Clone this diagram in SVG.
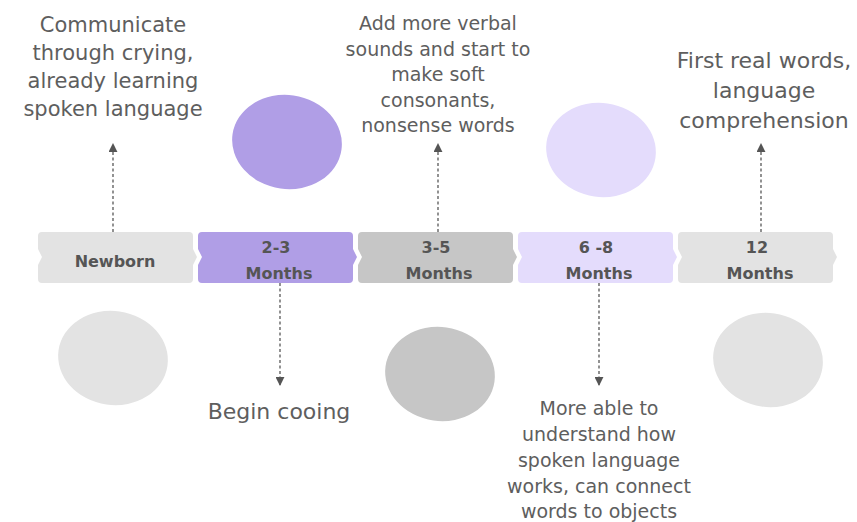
<svg xmlns="http://www.w3.org/2000/svg" width="857" height="522" viewBox="0 0 857 522">
<style>
.lbl{font-family:"DejaVu Sans",sans-serif;fill:#5e5e5e;text-anchor:middle}
.bx{font-family:"DejaVu Sans",sans-serif;font-weight:bold;font-size:16px;fill:#555;text-anchor:middle}
.con{stroke:#777;stroke-width:1.6;stroke-dasharray:3 2.5;fill:none}
</style>
<defs>
<marker id="ah" viewBox="0 0 10 10" refX="9" refY="5" markerWidth="9" markerHeight="9" markerUnits="userSpaceOnUse" orient="auto">
<path d="M0,0 L10,5 L0,10 Z" fill="#555"/>
</marker>
<path id="box" d="M4,232 H151 Q155,232 155,236 V249 L159,257 L155,265 V279 Q155,283 151,283 H4 Q0,283 0,279 V265 L4,257 L0,249 V236 Q0,232 4,232 Z"/>
</defs>
<rect width="857" height="522" fill="#fff"/>
<g id="blobs">
<ellipse cx="287" cy="142" rx="55" ry="47" fill="#b09ee6" transform="rotate(8 287 142)"/>
<ellipse cx="601" cy="150" rx="55" ry="47" fill="#e4dcfc" transform="rotate(8 601 150)"/>
<ellipse cx="113" cy="358" rx="55" ry="47" fill="#e3e3e3" transform="rotate(8 113 358)"/>
<ellipse cx="440" cy="374" rx="55" ry="47" fill="#c6c6c6" transform="rotate(8 440 374)"/>
<ellipse cx="768" cy="360" rx="55" ry="47" fill="#e3e3e3" transform="rotate(8 768 360)"/>
</g>
<g id="connectors">
<line class="con" x1="113" y1="232" x2="113" y2="144" marker-end="url(#ah)"/>
<line class="con" x1="438" y1="232" x2="438" y2="144" marker-end="url(#ah)"/>
<line class="con" x1="761" y1="232" x2="761" y2="144" marker-end="url(#ah)"/>
<line class="con" x1="280" y1="283" x2="280" y2="385" marker-end="url(#ah)"/>
<line class="con" x1="599" y1="283" x2="599" y2="385" marker-end="url(#ah)"/>
</g>
<g id="node-newborn">
<use href="#box" x="38" fill="#e3e3e3"/>
<text class="bx" x="115" y="267">Newborn</text>
</g>
<g id="node-2-3">
<use href="#box" x="198" fill="#b09ee6"/>
<text class="bx" x="276" y="253">2-3</text>
<text class="bx" x="279" y="279">Months</text>
</g>
<g id="node-3-5">
<use href="#box" x="358" fill="#c6c6c6"/>
<text class="bx" x="436" y="253">3-5</text>
<text class="bx" x="439" y="279">Months</text>
</g>
<g id="node-6-8">
<use href="#box" x="518" fill="#e4dcfc"/>
<text class="bx" x="596" y="253">6 -8</text>
<text class="bx" x="599" y="279">Months</text>
</g>
<g id="node-12">
<use href="#box" x="678" fill="#e3e3e3"/>
<text class="bx" x="757" y="253">12</text>
<text class="bx" x="760" y="279">Months</text>
</g>
<g id="label-newborn">
<text class="lbl" font-size="21" x="113" y="32">Communicate</text>
<text class="lbl" font-size="21" x="113" y="60">through crying,</text>
<text class="lbl" font-size="21" x="113" y="88">already learning</text>
<text class="lbl" font-size="21" x="113" y="116">spoken language</text>
</g>
<g id="label-2-3">
<text class="lbl" font-size="22" x="279" y="419">Begin cooing</text>
</g>
<g id="label-3-5">
<text class="lbl" font-size="19" x="438" y="30">Add more verbal</text>
<text class="lbl" font-size="19" x="438" y="55.5">sounds and start to</text>
<text class="lbl" font-size="19" x="438" y="81">make soft</text>
<text class="lbl" font-size="19" x="438" y="106.5">consonants,</text>
<text class="lbl" font-size="19" x="438" y="132">nonsense words</text>
</g>
<g id="label-6-8">
<text class="lbl" font-size="19" x="599" y="415">More able to</text>
<text class="lbl" font-size="19" x="599" y="441">understand how</text>
<text class="lbl" font-size="19" x="599" y="467">spoken language</text>
<text class="lbl" font-size="19" x="599" y="493">works, can connect</text>
<text class="lbl" font-size="19" x="599" y="518">words to objects</text>
</g>
<g id="label-12">
<text class="lbl" font-size="22" x="764" y="68">First real words,</text>
<text class="lbl" font-size="22" x="764" y="98">language</text>
<text class="lbl" font-size="22" x="764" y="128">comprehension</text>
</g>
</svg>
